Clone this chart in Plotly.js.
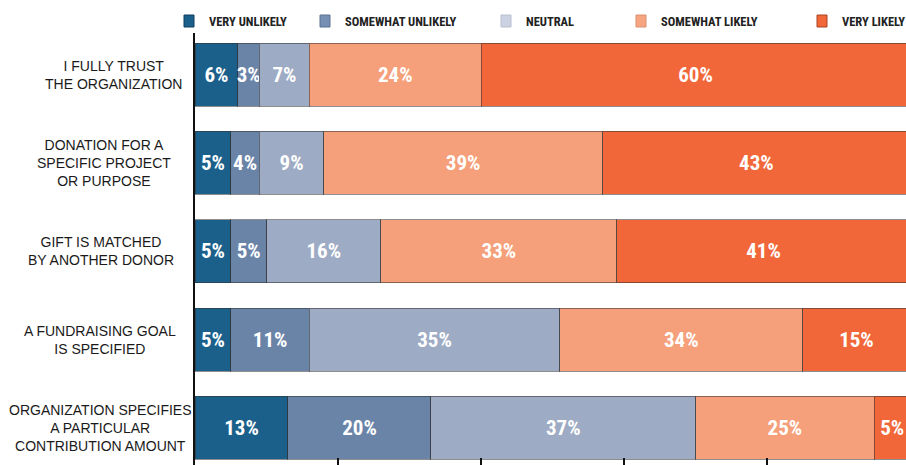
<!DOCTYPE html>
<html>
<head>
<meta charset="utf-8">
<script src="https://cdn.plot.ly/plotly-3.0.1.min.js"></script>
<style>
  html, body { margin: 0; padding: 0; background: #ffffff; }
  #chart { width: 906px; height: 465px; }
</style>
</head>
<body>
<div id="chart"></div>
<script>
// ---- data ----
const categories = [
  'I FULLY TRUST<br>THE ORGANIZATION',
  'DONATION FOR A<br>SPECIFIC PROJECT<br>OR PURPOSE',
  'GIFT IS MATCHED<br>BY ANOTHER DONOR',
  'A FUNDRAISING GOAL<br>IS SPECIFIED',
  'ORGANIZATION SPECIFIES<br>A PARTICULAR<br>CONTRIBUTION AMOUNT'
];
const seriesNames = ['VERY UNLIKELY', 'SOMEWHAT UNLIKELY', 'NEUTRAL', 'SOMEWHAT LIKELY', 'VERY LIKELY'];
const veryUnlikely     = [6, 5, 5, 5, 13];
const somewhatUnlikely = [3, 4, 5, 11, 20];
const neutral          = [7, 9, 16, 35, 37];
const somewhatLikely   = [24, 39, 33, 34, 25];
const veryLikely       = [60, 43, 41, 15, 5];

// ---- styling ----
const seriesValues = [veryUnlikely, somewhatUnlikely, neutral, somewhatLikely, veryLikely];
const barColors = ['#1b5f8b', '#6a84a8', '#9eabc4', '#f5a07b', '#f26739'];
const legendColors = ['#1b5f8b', '#7690b3', '#cbd2e2', '#f6a580', '#f26739'];
const legendBorder = ['#0f3f60', '#5a7092', '#b8bfd0', '#d99070', '#a84422'];
const narrow = '"Roboto Condensed", Roboto, "Liberation Sans", sans-serif';
const regular = '"Liberation Sans", Arial, sans-serif';

const W = 906, H = 465, ML = 195, MT = 33, MB = 0, MR = 0;
const PW = W - ML - MR, PH = H - MT - MB;
const px2x = p => (p - ML) / PW;
const px2y = p => (H - MB - p) / PH;

const traces = seriesNames.map((name, i) => ({
  type: 'bar',
  orientation: 'h',
  name: name,
  y: categories,
  x: seriesValues[i],
  text: seriesValues[i].map(v => v + '%'),
  textposition: 'inside',
  insidetextanchor: 'middle',
  textangle: 0,
  constraintext: 'none',
  textfont: { family: narrow, size: 21, color: '#ffffff', weight: 700 },
  marker: { color: barColors[i], line: { color: 'rgba(50,50,50,0.55)', width: 1 } },
  hoverinfo: 'skip'
}));

// category labels (centered multi-line)
const labelCenters = [113, 104, 101.5, 100, 101];
const annotations = categories.map((c, i) => ({
  xref: 'paper', yref: 'y',
  x: px2x(labelCenters[i]), y: c,
  xanchor: 'center', yanchor: 'middle',
  align: 'center',
  text: c,
  showarrow: false,
  font: { family: regular, size: 14, color: '#1a1a1a' }
}));

// custom legend
const legendMarkerLeft = [184, 320, 501, 636, 817];
const shapes = [];
seriesNames.forEach((name, i) => {
  const l = legendMarkerLeft[i];
  shapes.push({
    type: 'rect', xref: 'paper', yref: 'paper',
    x0: px2x(l), x1: px2x(l + 10), y0: px2y(27), y1: px2y(15),
    fillcolor: legendColors[i], line: { color: legendBorder[i], width: 1 }
  });
  annotations.push({
    xref: 'paper', yref: 'paper',
    x: px2x(l + 23), y: px2y(21),
    xanchor: 'left', yanchor: 'middle',
    text: name, showarrow: false,
    font: { family: narrow, size: 12.5, color: '#222222', weight: 700 }
  });
});

const layout = {
  width: W, height: H,
  margin: { l: ML, r: MR, t: MT, b: MB, pad: 0 },
  paper_bgcolor: '#ffffff', plot_bgcolor: '#ffffff',
  barmode: 'stack',
  bargap: 0.287,
  showlegend: false,
  xaxis: {
    range: [0, 99.43],
    showgrid: false, zeroline: false, showline: false,
    ticks: 'inside', ticklen: 7, tickwidth: 2, tickcolor: '#111111',
    tickmode: 'linear', tick0: 0, dtick: 20,
    showticklabels: false, fixedrange: true
  },
  yaxis: {
    type: 'category',
    categoryorder: 'array', categoryarray: categories,
    range: [4.42, -0.47],
    showgrid: false, zeroline: false,
    showline: true, linecolor: '#111111', linewidth: 2,
    ticks: '', showticklabels: false, fixedrange: true
  },
  annotations: annotations,
  shapes: shapes
};

Plotly.newPlot('chart', traces, layout, { staticPlot: true, displayModeBar: false });
</script>
</body>
</html>
